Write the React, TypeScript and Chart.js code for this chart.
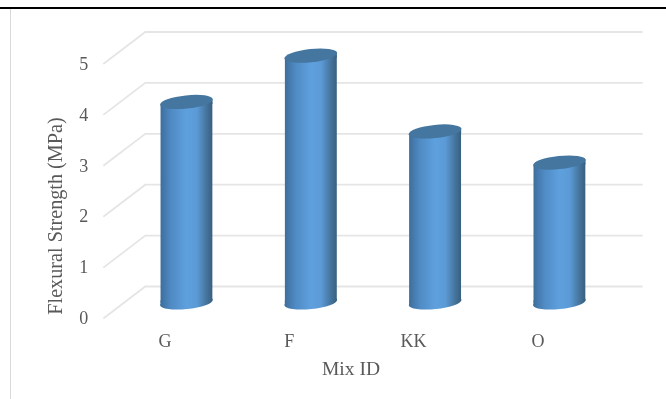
import { useEffect, useRef } from "react";
import { Chart, registerables } from "chart.js";

Chart.register(...registerables);

const categories = ["G", "F", "KK", "O"];
const flexuralStrength = [3.94, 4.85, 3.36, 2.75];
const yAxisTitle = "Flexural Strength (MPa)";
const xAxisTitle = "Mix ID";

const FONT = '"Liberation Serif", "Times New Roman", serif';
const TEXT = "#595959";
const GRID = "#e5e5e5";
const DEPTH_X = 21;
const DEPTH_Y = 16;
const TILT = (-6 * Math.PI) / 180;
const SEMI_MINOR = 6.6;

function bodyGradient(ctx: CanvasRenderingContext2D, cx: number, width: number) {
  const g = ctx.createLinearGradient(cx - width / 2, 0, cx + width / 2, 0);
  g.addColorStop(0, "#3d6e9c");
  g.addColorStop(0.2, "#4f8ac3");
  g.addColorStop(0.5, "#5ea0de");
  g.addColorStop(0.7, "#5b9ad6");
  g.addColorStop(0.9, "#437198");
  g.addColorStop(1, "#38607f");
  return g;
}

// Receding grid: a diagonal on the side wall and a horizontal on the back wall.
const wallsPlugin = {
  id: "walls",
  beforeDatasetsDraw(chart: any) {
    const { ctx, chartArea, scales } = chart;
    ctx.save();
    ctx.strokeStyle = GRID;
    ctx.lineWidth = 1.8;
    for (const tick of scales.y.ticks) {
      const y = scales.y.getPixelForValue(tick.value);
      ctx.beginPath();
      ctx.moveTo(chartArea.left - DEPTH_X, y + DEPTH_Y);
      ctx.lineTo(chartArea.left + DEPTH_X, y - DEPTH_Y);
      ctx.lineTo(chartArea.right + DEPTH_X, y - DEPTH_Y);
      ctx.stroke();
    }
    ctx.restore();
  },
};

// Turns each flat bar into a cylinder: rounded base below, tilted cap above.
const cylinderPlugin = {
  id: "cylinder",
  beforeDatasetDraw(chart: any) {
    const { ctx } = chart;
    const bars = chart.getDatasetMeta(0).data;
    ctx.save();
    for (const bar of bars) {
      const w = bar.width;
      const rise = (w / 2) * Math.tan(-TILT);
      ctx.fillStyle = bodyGradient(ctx, bar.x, w);
      ctx.beginPath();
      ctx.ellipse(bar.x, bar.base, w / 2 + 0.5, SEMI_MINOR, TILT, 0, Math.PI * 2);
      ctx.fill();
      // Carry the side walls down to the low end of the base and up to the high end of the cap.
      ctx.beginPath();
      ctx.moveTo(bar.x - w / 2, bar.base - 2);
      ctx.lineTo(bar.x - w / 2, bar.base + rise);
      ctx.lineTo(bar.x, bar.base);
      ctx.closePath();
      ctx.fill();
      ctx.beginPath();
      ctx.moveTo(bar.x + w / 2, bar.y + 2);
      ctx.lineTo(bar.x + w / 2, bar.y - rise);
      ctx.lineTo(bar.x, bar.y);
      ctx.closePath();
      ctx.fill();
    }
    ctx.beginPath();
    for (const bar of bars) {
      const w = bar.width;
      const rise = (w / 2) * Math.tan(-TILT);
      ctx.moveTo(bar.x - w / 2, bar.y + rise);
      ctx.lineTo(bar.x + w / 2, bar.y - rise);
      ctx.lineTo(bar.x + w / 2, bar.base - rise);
      ctx.lineTo(bar.x - w / 2, bar.base + rise);
      ctx.closePath();
    }
    ctx.clip();
  },
  afterDatasetDraw(chart: any) {
    const { ctx } = chart;
    ctx.restore();
    ctx.save();
    ctx.fillStyle = "#44769f";
    for (const bar of chart.getDatasetMeta(0).data) {
      ctx.beginPath();
      ctx.ellipse(bar.x, bar.y, bar.width / 2 + 0.5, SEMI_MINOR, TILT, 0, Math.PI * 2);
      ctx.fill();
    }
    ctx.restore();
  },
};

const axisTitlesPlugin = {
  id: "axisTitles",
  afterDraw(chart: any) {
    const { ctx } = chart;
    ctx.save();
    ctx.fillStyle = TEXT;
    ctx.textAlign = "center";
    ctx.textBaseline = "middle";
    ctx.font = `19.5px ${FONT}`;
    ctx.fillText(xAxisTitle, 351, 369.5);
    ctx.font = `20.2px ${FONT}`;
    ctx.translate(57, 216);
    ctx.rotate(-Math.PI / 2);
    ctx.fillText(yAxisTitle, 0, 0);
    ctx.restore();
  },
};

export default function App() {
  const canvasRef = useRef<HTMLCanvasElement>(null);

  useEffect(() => {
    const chart = new Chart(canvasRef.current as HTMLCanvasElement, {
      type: "bar",
      data: {
        labels: categories,
        datasets: [
          {
            label: yAxisTitle,
            data: flexuralStrength,
            barThickness: 52,
            backgroundColor: (c: any) => {
              const x = c.chart.scales.x;
              const cx = x && c.dataIndex !== undefined ? x.getPixelForValue(c.dataIndex) : NaN;
              if (!Number.isFinite(cx)) return "#5ea0de";
              return bodyGradient(c.chart.ctx, cx, 52);
            },
          },
        ],
      },
      options: {
        responsive: false,
        animation: false,
        layout: { padding: { top: 48, right: 44.4, left: 0, bottom: 0 } },
        plugins: { legend: { display: false }, tooltip: { enabled: false } },
        scales: {
          x: {
            grid: { display: false, tickLength: 0 },
            border: { display: false },
            afterFit: (s: any) => {
              s.height = 96.5;
            },
            ticks: {
              color: TEXT,
              font: { family: FONT, size: 18 },
              padding: 29,
              labelOffset: -21.5,
              maxRotation: 0,
            },
          },
          y: {
            min: 0,
            max: 5,
            grid: { display: false, tickLength: 0 },
            border: { display: false },
            afterFit: (s: any) => {
              s.width = 124.3;
            },
            ticks: {
              stepSize: 1,
              color: TEXT,
              font: { family: FONT, size: 18 },
              padding: 36,
              labelOffset: 17,
            },
          },
        },
      },
      plugins: [wallsPlugin, cylinderPlugin, axisTitlesPlugin],
    } as any);
    return () => chart.destroy();
  }, []);

  return (
    <div style={{ position: "absolute", left: 0, top: 0, width: 666, height: 399, background: "#fff", overflow: "hidden" }}>
      <div style={{ position: "absolute", left: 0, top: 7, width: 666, height: 2, background: "#000" }} />
      <div style={{ position: "absolute", left: 10, top: 9, width: 1, height: 390, background: "#d9d9d9" }} />
      <canvas ref={canvasRef} width={666} height={399} style={{ position: "absolute", left: 0, top: 0, display: "block" }} />
    </div>
  );
}
